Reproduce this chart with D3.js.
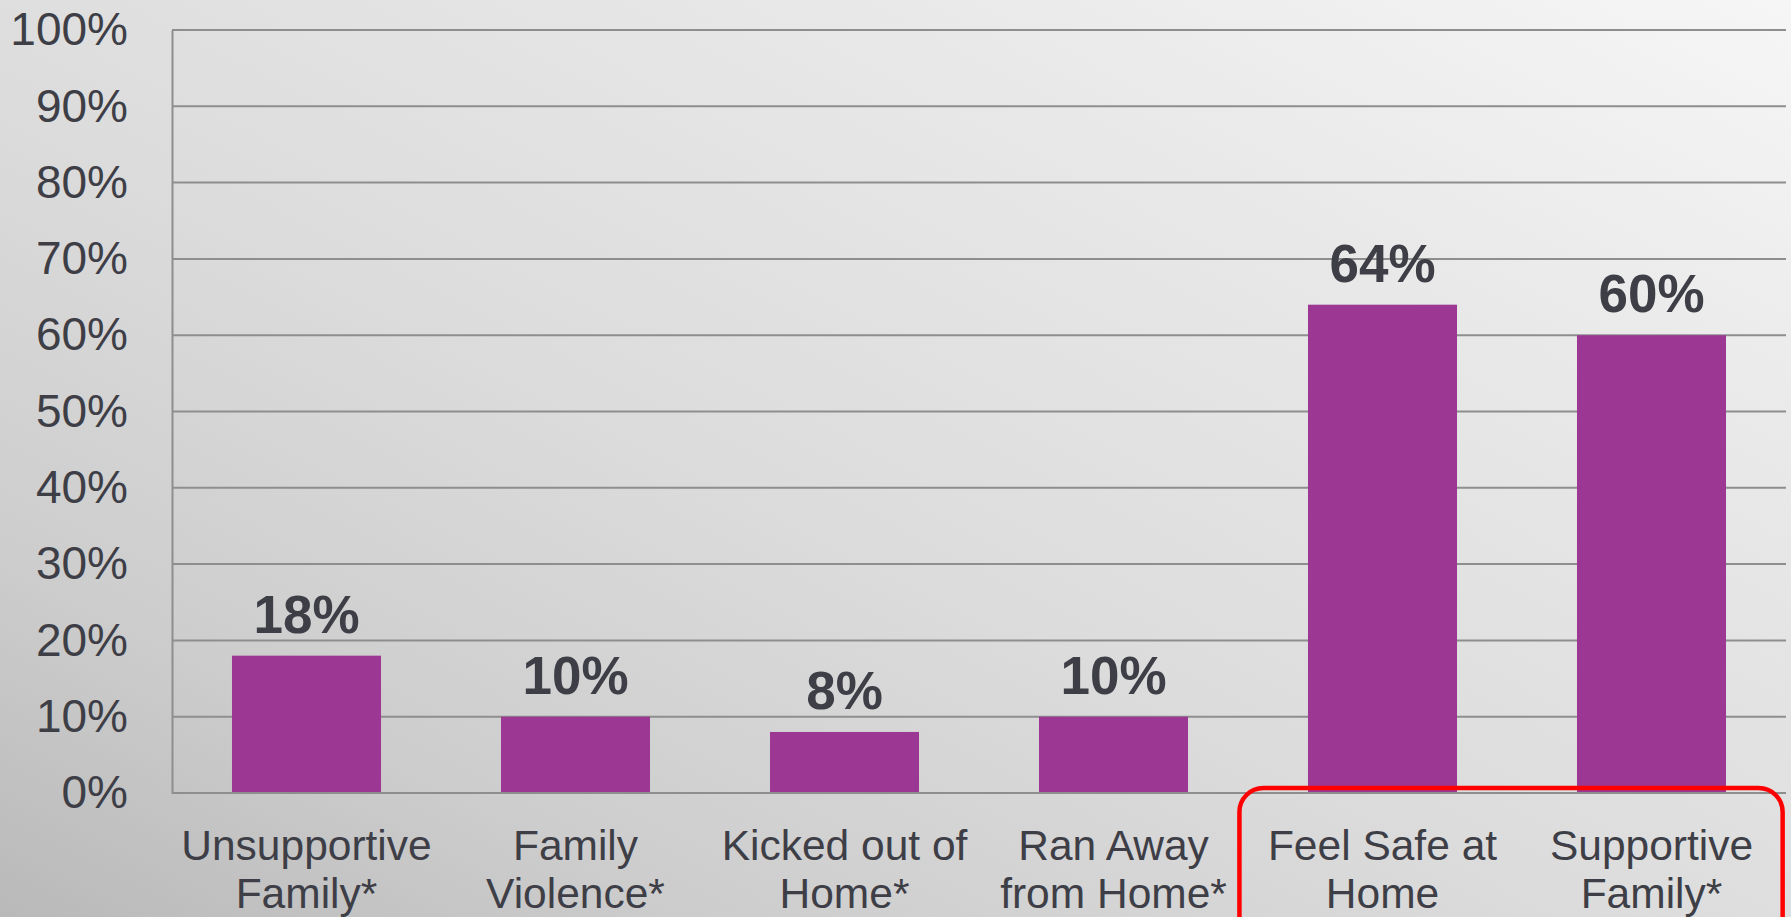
<!DOCTYPE html>
<html>
<head>
<meta charset="utf-8">
<script src="https://cdn.jsdelivr.net/npm/d3@7"></script>
<style>
    html, body { margin: 0; padding: 0; overflow: hidden; }
    svg { display: block; }
</style>
</head>
<body>
<svg id="chart" width="1791" height="917"></svg>
<script>
(function () {
    'use strict';

    // categories (two lines each) and values in percent
    const categories = [
        ['Unsupportive', 'Family*'],
        ['Family', 'Violence*'],
        ['Kicked out of', 'Home*'],
        ['Ran Away', 'from Home*'],
        ['Feel Safe at', 'Home'],
        ['Supportive', 'Family*']
    ];
    const values = [18, 10, 8, 10, 64, 60];
    const yTicks = [0, 10, 20, 30, 40, 50, 60, 70, 80, 90, 100];
    const highlighted = [4, 5];

    const W = 1791, H = 917;
    const ma = { top: 30, right: 5, bottom: 124, left: 172 };
    const wi = W - ma.left - ma.right;
    const he = H - ma.top - ma.bottom;

    const sv = d3.select('#chart');

    // background
    const defs = sv.append('defs');
    const bg = defs.append('linearGradient')
        .attr('id', 'bg')
        .attr('x1', '0%').attr('y1', '100%')
        .attr('x2', '100%').attr('y2', '0%');
    bg.append('stop').attr('offset', '0%').attr('stop-color', '#b9b9b9');
    bg.append('stop').attr('offset', '20%').attr('stop-color', '#cdcdcd');
    bg.append('stop').attr('offset', '45%').attr('stop-color', '#dcdcdc');
    bg.append('stop').attr('offset', '75%').attr('stop-color', '#e9e9e9');
    bg.append('stop').attr('offset', '100%').attr('stop-color', '#f6f6f6');
    sv.append('rect').attr('width', W).attr('height', H).attr('fill', 'url(#bg)');

    const gr = sv.append('g').attr('transform', `translate(${ma.left},${ma.top})`);

    const keys = categories.map((d, i) => i);
    const x_sc = d3.scaleBand().domain(keys).range([0, wi])
        .paddingInner(0.446).paddingOuter(0.223);
    const y_sc = d3.scaleLinear().domain([0, 100]).range([he, 0]);

    const txt = '#3e3e47';
    const font = 'Liberation Sans, Arial, sans-serif';

    // gridlines
    gr.append('g')
        .selectAll('line')
        .data(yTicks)
        .enter()
        .append('line')
        .attr('x1', 0).attr('x2', wi)
        .attr('y1', d => y_sc(d)).attr('y2', d => y_sc(d))
        .attr('stroke', '#8e8e8e')
        .attr('stroke-width', 2);

    // y axis
    const y_ax = gr.append('g')
        .call(d3.axisLeft(y_sc).tickValues(yTicks).tickSize(0).tickPadding(44).tickFormat(d => d + '%'));
    y_ax.select('.domain').attr('stroke', '#8e8e8e').attr('stroke-width', 2);
    y_ax.selectAll('text')
        .attr('fill', txt)
        .style('font-family', font)
        .style('font-size', '46px');

    // bars
    gr.selectAll('.bar')
        .data(values)
        .enter()
        .append('rect')
        .attr('class', 'bar')
        .attr('x', (d, i) => x_sc(i))
        .attr('width', x_sc.bandwidth())
        .attr('y', d => y_sc(d))
        .attr('height', d => he - y_sc(d))
        .attr('fill', '#9c3894');

    // value labels
    gr.selectAll('.val')
        .data(values)
        .enter()
        .append('text')
        .attr('class', 'val')
        .attr('x', (d, i) => x_sc(i) + x_sc.bandwidth() / 2)
        .attr('y', d => y_sc(d) - 23)
        .attr('text-anchor', 'middle')
        .attr('fill', txt)
        .style('font-family', font)
        .style('font-size', '53px')
        .style('font-weight', 'bold')
        .text(d => d + '%');

    // category labels
    const cat = gr.selectAll('.cat')
        .data(categories)
        .enter()
        .append('text')
        .attr('class', 'cat')
        .attr('text-anchor', 'middle')
        .attr('fill', txt)
        .style('font-family', font)
        .style('font-size', '42.5px');
    cat.selectAll('tspan')
        .data((d, i) => d.map((t, j) => ({ t: t, i: i, j: j })))
        .enter()
        .append('tspan')
        .attr('x', d => x_sc(d.i) + x_sc.bandwidth() / 2)
        .attr('y', d => he + 67 + d.j * 48)
        .text(d => d.t);

    // x axis baseline
    gr.append('line')
        .attr('x1', 0).attr('x2', wi)
        .attr('y1', he).attr('y2', he)
        .attr('stroke', '#8e8e8e')
        .attr('stroke-width', 2);

    // highlight box
    const bw = x_sc.bandwidth();
    const hx0 = x_sc(highlighted[0]) - bw * 0.46;
    const hx1 = x_sc(highlighted[highlighted.length - 1]) + bw * 1.38;
    gr.append('rect')
        .attr('x', hx0)
        .attr('y', he - 5)
        .attr('width', hx1 - hx0)
        .attr('height', 200)
        .attr('rx', 24)
        .attr('fill', 'none')
        .attr('stroke', '#ff0000')
        .attr('stroke-width', 4.5);
})();
</script>
</body>
</html>
